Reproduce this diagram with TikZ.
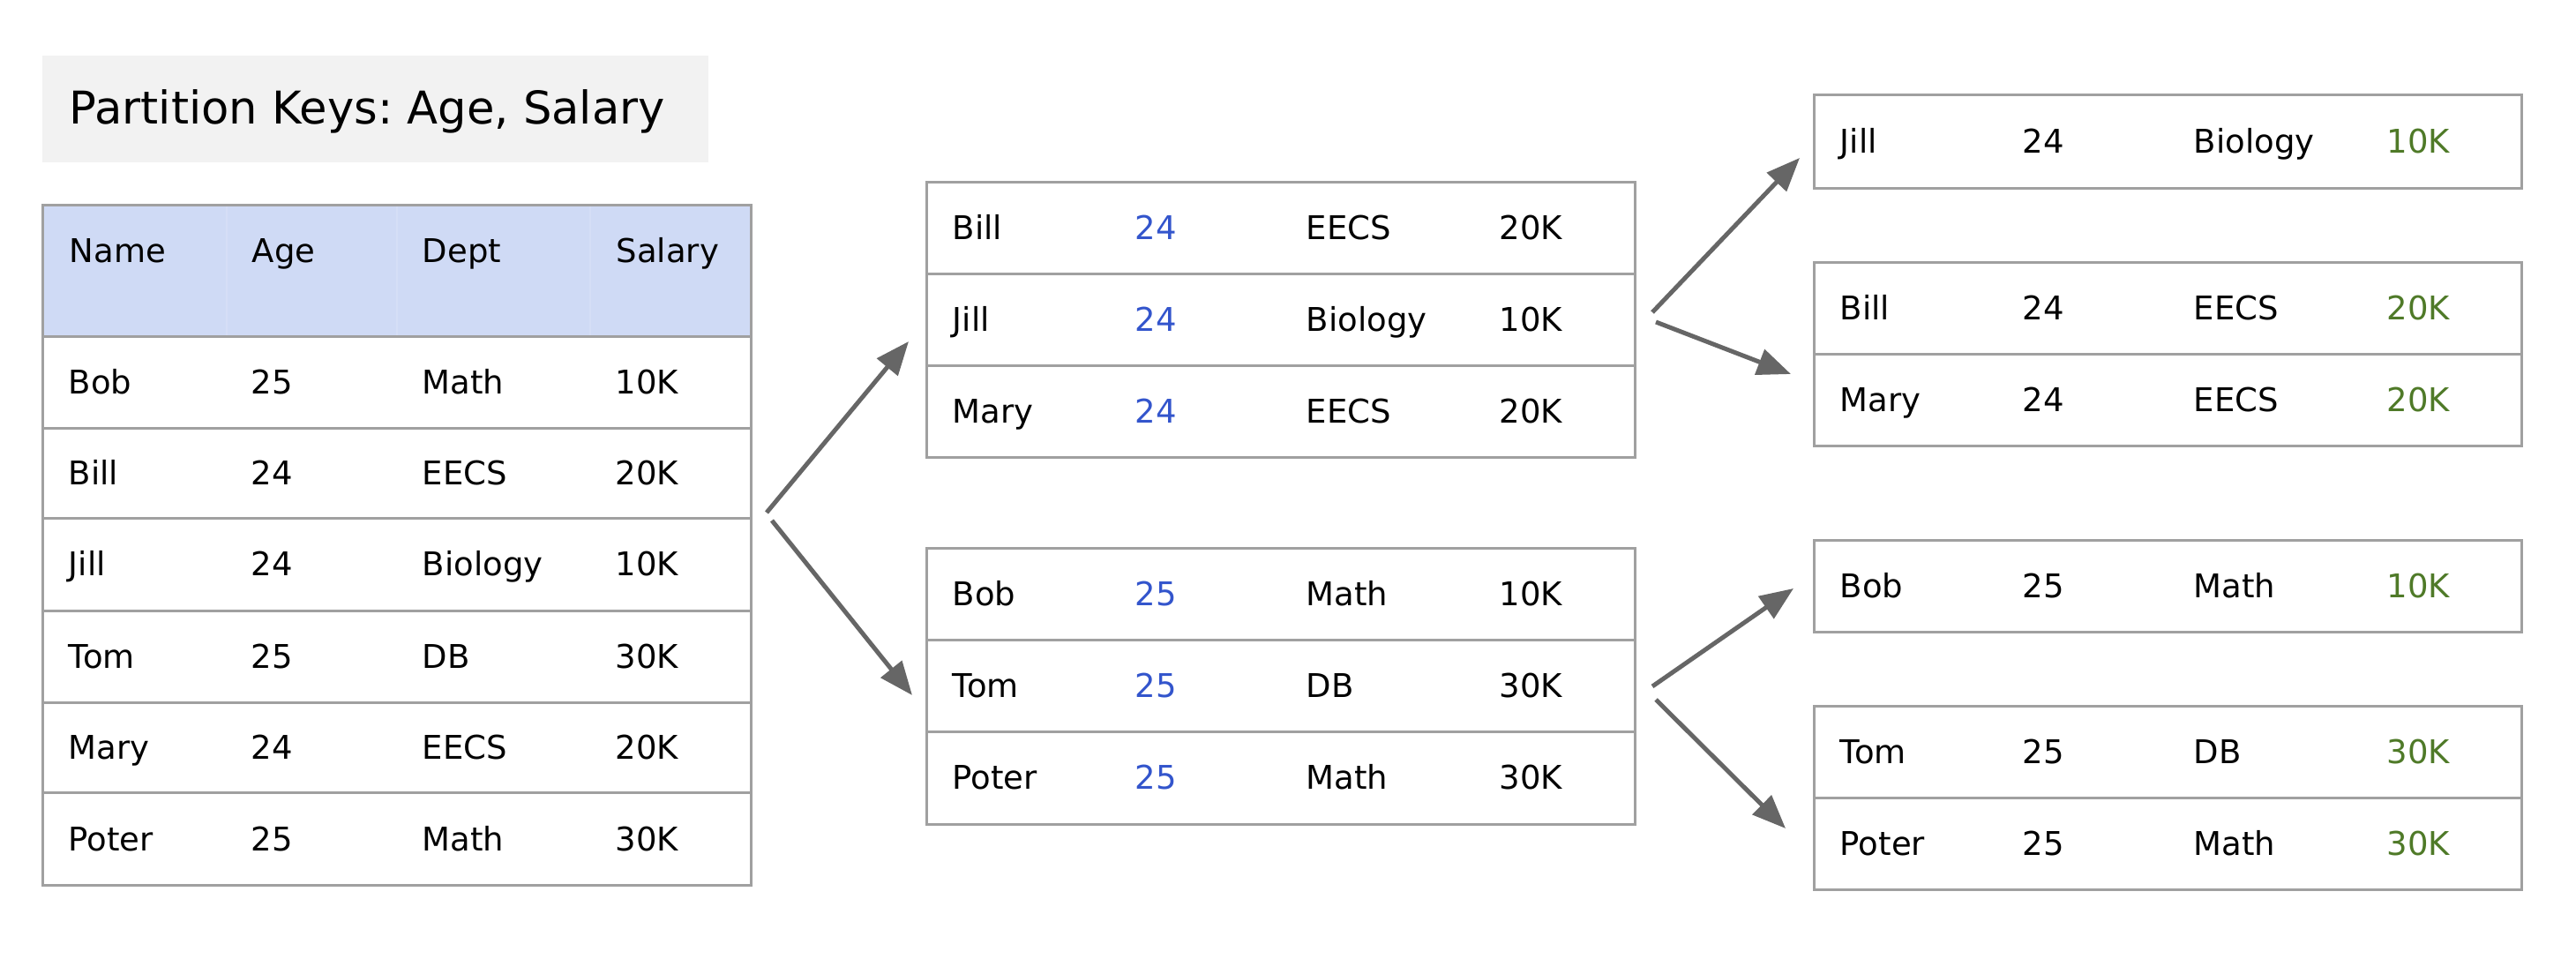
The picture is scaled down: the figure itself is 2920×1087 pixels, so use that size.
\documentclass[tikz,border=0pt]{standalone}
\usepackage{fontspec}
\setmainfont{DejaVu Sans}
\usetikzlibrary{arrows.meta,fit}
\frenchspacing
\definecolor{bord}{HTML}{A0A0A0}
\definecolor{hdr}{HTML}{CFDAF5}
\definecolor{ttl}{HTML}{F2F2F2}
\definecolor{blu}{HTML}{3355CC}
\definecolor{grn}{HTML}{4F7A28}
\definecolor{arr}{HTML}{666666}
\tikzset{
  tbox/.style={draw=bord, line width=0.75pt, inner sep=0pt},
  sepline/.style={draw=bord, line width=0.75pt},
  cell/.style={anchor=base west, inner sep=0pt, font=\fontsize{9.25}{11}\selectfont},
  ttltext/.style={anchor=base west, inner sep=0pt, font=\fontsize{12.8}{15}\selectfont},
  arrowline/.style={draw=arr, line width=1.25pt, -{Triangle[length=9.5pt,width=7.5pt]}},
}
\newcommand\trow[7]{%
  \node[cell] (#1a) at (#2+29,#3+13) {#4};
  \node[cell] (#1b) at (#2+236,#3+13) {#5};
  \node[cell] (#1c) at (#2+430,#3+13) {#6};
  \node[cell] (#1d) at (#2+649,#3+13) {#7};
}
\begin{document}
\begin{tikzpicture}[x=0.25pt,y=-0.25pt]
\useasboundingbox (0,0) rectangle (2920,1087);
% title
\node[fill=ttl, inner sep=0pt, fit={(48,63) (803,184)}] (title) {};
\node[ttltext] (titletext) at (78,141) {Partition Keys: Age, Salary};
% main table
\fill[hdr] (48,233) rectangle (851,382);
\draw[hdr!88!white, line width=0.4pt] (257,233) -- (257,382) (450,233) -- (450,382) (669,233) -- (669,382);
\node[tbox, fit={(48,233) (851,1004)}] (main) {};
\foreach \yy in {382,486,588,693,797,899} \draw[sepline] (48,\yy) -- (851,\yy);
\node[cell] (hna) at (78,298) {Name};
\node[cell] (hnb) at (285,298) {Age};
\node[cell] (hnc) at (478,298) {Dept};
\node[cell] (hnd) at (698,298) {Salary};
\trow{ma}{48}{434}{Bob}{25}{Math}{10K}
\trow{mb}{48}{537}{Bill}{24}{EECS}{20K}
\trow{mc}{48}{640}{Jill}{24}{Biology}{10K}
\trow{md}{48}{745}{Tom}{25}{DB}{30K}
\trow{me}{48}{848}{Mary}{24}{EECS}{20K}
\trow{mf}{48}{952}{Poter}{25}{Math}{30K}
% middle top
\node[tbox, fit={(1050,207) (1853,519)}] (midtop) {};
\draw[sepline] (1050,311) -- (1853,311) (1050,415) -- (1853,415);
\trow{ta}{1050}{259}{Bill}{\color{blu}24}{EECS}{20K}
\trow{tb}{1050}{363}{Jill}{\color{blu}24}{Biology}{10K}
\trow{tc}{1050}{467}{Mary}{\color{blu}24}{EECS}{20K}
% middle bottom
\node[tbox, fit={(1050,622) (1853,935)}] (midbot) {};
\draw[sepline] (1050,726) -- (1853,726) (1050,830) -- (1853,830);
\trow{ba}{1050}{674}{Bob}{\color{blu}25}{Math}{10K}
\trow{bb}{1050}{778}{Tom}{\color{blu}25}{DB}{30K}
\trow{bc}{1050}{882}{Poter}{\color{blu}25}{Math}{30K}
% right tables
\node[tbox, fit={(2056,108) (2858,214)}] (r1) {};
\trow{ra}{2056}{161}{Jill}{24}{Biology}{\color{grn}10K}
\node[tbox, fit={(2056,298) (2858,506)}] (r2) {};
\draw[sepline] (2056,402) -- (2858,402);
\trow{rb}{2056}{350}{Bill}{24}{EECS}{\color{grn}20K}
\trow{rc}{2056}{454}{Mary}{24}{EECS}{\color{grn}20K}
\node[tbox, fit={(2056,613) (2858,717)}] (r3) {};
\trow{rd}{2056}{665}{Bob}{25}{Math}{\color{grn}10K}
\node[tbox, fit={(2056,801) (2858,1009)}] (r4) {};
\draw[sepline] (2056,905) -- (2858,905);
\trow{re}{2056}{853}{Tom}{25}{DB}{\color{grn}30K}
\trow{rf}{2056}{957}{Poter}{25}{Math}{\color{grn}30K}
% arrows
\coordinate (a1s) at (869,581); \coordinate (a1e) at (1030,387);
\coordinate (a2s) at (875,590); \coordinate (a2e) at (1034,788);
\coordinate (a3s) at (1873,354); \coordinate (a3e) at (2040,179);
\coordinate (a4s) at (1877,365); \coordinate (a4e) at (2030,424);
\coordinate (a5s) at (1873,778); \coordinate (a5e) at (2033,667);
\coordinate (a6s) at (1877,793); \coordinate (a6e) at (2024,939);
\draw[arrowline] (a1s) -- (a1e);
\draw[arrowline] (a2s) -- (a2e);
\draw[arrowline] (a3s) -- (a3e);
\draw[arrowline] (a4s) -- (a4e);
\draw[arrowline] (a5s) -- (a5e);
\draw[arrowline] (a6s) -- (a6e);
\end{tikzpicture}
\end{document}
